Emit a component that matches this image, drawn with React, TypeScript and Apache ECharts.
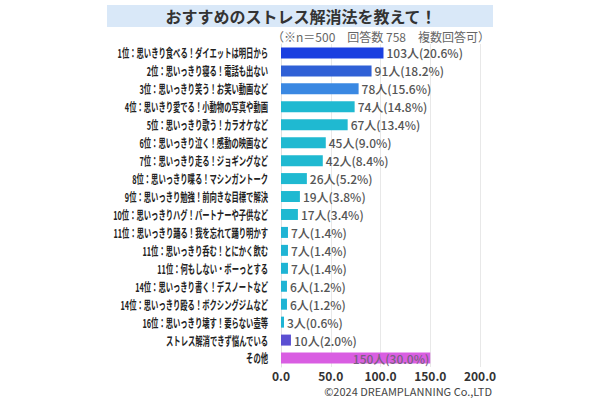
import React, { useEffect, useRef } from "react";
import * as echarts from "echarts";

const categories = [
  "1位：思いきり食べる！ダイエットは明日から",
  "2位：思いっきり寝る！電話も出ない",
  "3位：思いっきり笑う！お笑い動画など",
  "4位：思いきり愛でる！小動物の写真や動画",
  "5位：思いっきり歌う！カラオケなど",
  "6位：思いっきり泣く！感動の映画など",
  "7位：思いっきり走る！ジョギングなど",
  "8位：思いっきり喋る！マシンガントーク",
  "9位：思いっきり勉強！前向きな目標で解決",
  "10位：思いっきりハグ！パートナーや子供など",
  "11位：思いっきり踊る！我を忘れて踊り明かす",
  "11位：思いっきり呑む！とにかく飲む",
  "11位：何もしない・ボーっとする",
  "14位：思いっきり書く！デスノートなど",
  "14位：思いっきり殴る！ボクシングジムなど",
  "16位：思いっきり壊す！要らない壺等",
  "ストレス解消できず悩んでいる",
  "その他",
];
const counts = [103, 91, 78, 74, 67, 45, 42, 26, 19, 17, 7, 7, 7, 6, 6, 3, 10, 150];
const percents = ["20.6", "18.2", "15.6", "14.8", "13.4", "9.0", "8.4", "5.2", "3.8", "3.4", "1.4", "1.4", "1.4", "1.2", "1.2", "0.6", "2.0", "30.0"];
const barColors = [
  "#1b3fe0", "#2f60d6", "#3a88e2",
  "#1fb9d1", "#1fb9d1", "#1fb9d1", "#1fb9d1", "#1fb9d1", "#1fb9d1", "#1fb9d1",
  "#1fb4d4", "#1fb4d4", "#1fb4d4", "#1fb4d4", "#1fb4d4", "#1fb4d4",
  "#5b4fd2", "#d95ee2",
];
const xTicks = [0, 50, 100, 150, 200];
const titleText = "おすすめのストレス解消法を教えて！";
const subtitleText = "（※n＝500　回答数 758　複数回答可）";
const copyrightText = "©2024 DREAMPLANNING Co.,LTD";

const FONT = '"Noto Sans CJK JP", "Noto Sans", sans-serif';

export default function App() {
  const ref = useRef<HTMLDivElement>(null);
  useEffect(() => {
    if (!ref.current) return;
    const chart = echarts.init(ref.current, null, { renderer: "svg" });
    const last = categories.length - 1;
    chart.setOption({
      animation: false,
      backgroundColor: "#ffffff",
      textStyle: { fontFamily: FONT },
      graphic: [
        {
          type: "rect",
          z: -10,
          shape: { x: 107, y: 5, width: 386, height: 22 },
          style: { fill: "#d9e8f8" },
        },
        {
          type: "text",
          x: 301,
          y: 16,
          style: {
            text: titleText,
            textAlign: "center",
            textVerticalAlign: "middle",
            font: `bold 16px ${FONT}`,
            fill: "#333333",
          },
        },
        {
          type: "text",
          x: 490,
          y: 36,
          style: {
            text: subtitleText,
            textAlign: "right",
            textVerticalAlign: "middle",
            font: `12px ${FONT}`,
            fill: "#666666",
          },
        },
        {
          type: "text",
          x: 492,
          y: 391,
          style: {
            text: copyrightText,
            textAlign: "right",
            textVerticalAlign: "middle",
            font: `11px ${FONT}`,
            fill: "#444444",
          },
        },
      ],
      grid: { left: 281, right: 120, top: 44, bottom: 33, containLabel: false },
      xAxis: {
        type: "value",
        min: 0,
        max: 200,
        interval: 50,
        axisLine: { show: false },
        axisTick: { show: false },
        splitLine: { show: true, lineStyle: { color: "#e8e8e8", width: 1 } },
        axisLabel: {
          margin: 2,
          fontFamily: FONT,
          fontSize: 12,
          fontWeight: "bold",
          color: "#333333",
          lineHeight: 13,
          formatter: (v: number) => (xTicks.includes(v) ? v.toFixed(1) : ""),
        },
      },
      yAxis: {
        type: "category",
        inverse: true,
        data: categories,
        axisLine: { show: true, lineStyle: { color: "#e0e0e0" } },
        axisTick: { show: false },
        axisLabel: { show: false },
      },
      series: [
        {
          type: "bar",
          barWidth: 11,
          data: counts.map((v, i) => ({
            value: v,
            itemStyle: { color: barColors[i] },
            label:
              i === last
                ? { position: "insideRight", offset: [2, 0], color: "#7a6080" }
                : undefined,
          })),
          label: {
            show: true,
            position: "right",
            distance: 3,
            fontFamily: FONT,
            fontSize: 12,
            fontWeight: 500,
            color: "#555555",
            formatter: (p: any) => `${counts[p.dataIndex]}人(${percents[p.dataIndex]}%)`,
          },
        },
        {
          type: "custom",
          clip: false,
          silent: true,
          data: categories.map((_, i) => [0, i]),
          encode: { x: 0, y: 1 },
          renderItem: (params: any, api: any) => {
            const idx = api.value(1);
            const p = api.coord([0, idx]);
            return {
              type: "text",
              x: p[0] - 13,
              y: p[1],
              scaleX: 0.61,
              scaleY: 1,
              style: {
                text: categories[idx],
                textAlign: "right",
                textVerticalAlign: "middle",
                font: `bold 12px ${FONT}`,
                fill: "#222222",
              },
            };
          },
        },
      ],
    });
    return () => chart.dispose();
  }, []);
  return (
    <div
      ref={ref}
      style={{ position: "fixed", left: 0, top: 0, width: 600, height: 400 }}
    />
  );
}
